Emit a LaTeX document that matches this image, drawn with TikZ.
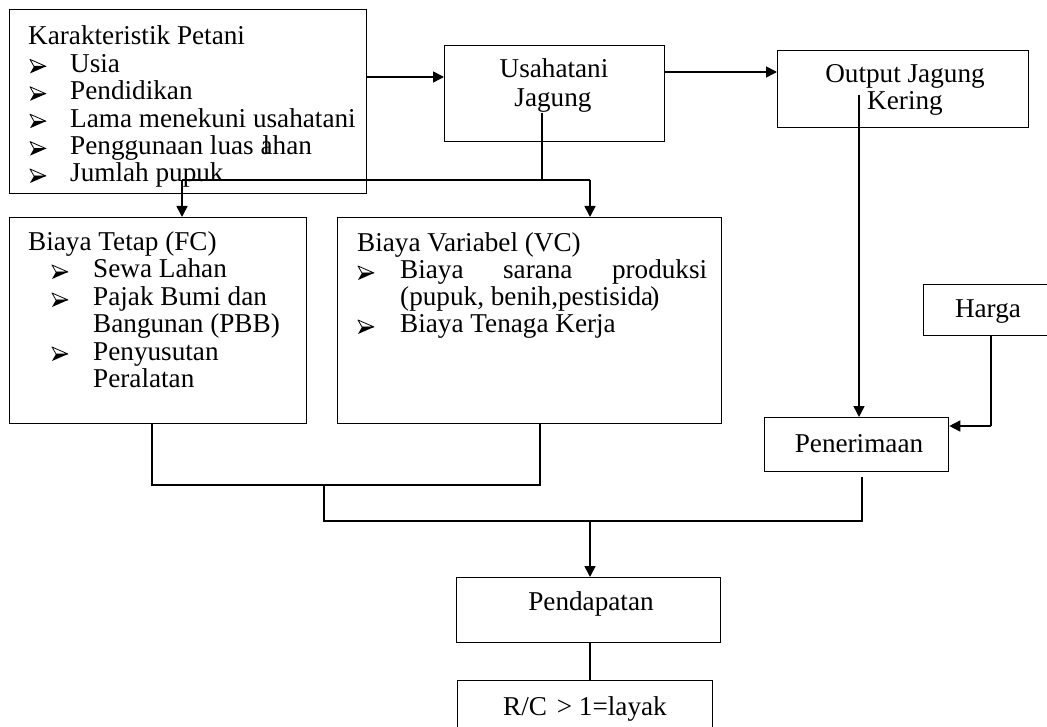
\documentclass[tikz,border=0pt]{standalone}
\usepackage{fontspec}
\setmainfont{Liberation Serif}
\usetikzlibrary{arrows.meta}
\begin{document}
\begin{tikzpicture}[x=1pt,y=-1pt,
  box/.style={draw, line width=1.3pt, inner sep=0pt, anchor=north west},
  ln/.style={line width=1.2pt},
  arr/.style={line width=1.6pt, -{Triangle[length=11pt,width=11pt]}},
  txt/.style={anchor=base west, inner sep=0pt, font=\fontsize{27.2}{27.4}\selectfont},
  ctxt/.style={anchor=base, inner sep=0pt, font=\fontsize{27.2}{27.4}\selectfont},
  bul/.pic={\fill (0,7)--(16,0)--(4,0)--cycle;
            \draw[line width=0.8pt, line join=round] (0,-7)--(16,0)--(4,0)--cycle;}
]
\useasboundingbox[fill=white] (0,0) rectangle (1047,727);

% boxes
\node[box, minimum width=357pt, minimum height=184pt] (kar) at (9,9) {};
\node[box, minimum width=220pt, minimum height=96pt] (usa) at (444,45) {};
\node[box, minimum width=251pt, minimum height=77pt] (out) at (777,50) {};
\node[box, minimum width=297pt, minimum height=206pt] (fc) at (9,217) {};
\node[box, minimum width=384pt, minimum height=206pt] (vc) at (337,217) {};
\node[box, minimum width=130pt, minimum height=51pt] (harga) at (923,284) {};
\node[box, minimum width=184pt, minimum height=54pt] (pen) at (764,417) {};
\node[box, minimum width=264pt, minimum height=65pt] (pdp) at (456,577) {};
\node[box, minimum width=255pt, minimum height=60pt] (rc) at (457,680) {};

% Karakteristik Petani
\node[txt] (k0) at (28,45) {Karakteristik Petani};
\pic at (30,66.4) {bul}; \node[txt] (k1) at (70,72.4) {Usia};
\pic at (30,93.8) {bul}; \node[txt] (k2) at (70,99.8) {Pendidikan};
\pic at (30,121.2) {bul}; \node[txt] (k3) at (70,127.2) {Lama menekuni usahatani};
\pic at (30,148.6) {bul}; \node[txt] (k4) at (70,154.6) {Penggunaan luas \rlap{\kern2pt l}ahan};
\pic at (30,176) {bul}; \node[txt] (k5) at (70,182) {Jumlah pupuk};

% Usahatani
\node[ctxt] (u1) at (554,78) {Usahatani};
\node[ctxt] (u2) at (553,107) {Jagung};

% Output
\node[ctxt] (o1) at (905,83) {Output Jagung};
\node[ctxt] (o2) at (905,110) {Kering};

% Biaya Tetap
\node[txt] (f0) at (28,251) {Biaya Tetap (FC)};
\pic at (52,272) {bul}; \node[txt] (f1) at (93,278) {Sewa Lahan};
\pic at (52,300) {bul}; \node[txt] (f2) at (93,306) {Pajak Bumi dan};
\node[txt] (f3) at (93,333) {Bangunan (PBB)};
\pic at (52,354) {bul}; \node[txt] (f4) at (93,360) {Penyusutan};
\node[txt] (f5) at (93,388) {Peralatan};

% Biaya Variabel
\node[txt] (v0) at (357,252) {Biaya Variabel (VC)};
\pic at (358,273) {bul}; \node[txt] (v1) at (400,279) {\makebox[307pt][s]{Biaya\hfill sarana\hfill produksi}};
\node[txt] (v2) at (400,306) {(pupuk, benih,pestisida\kern-3pt)};
\pic at (358,327) {bul}; \node[txt] (v3) at (400,333) {Biaya Tenaga Kerja};

% others
\node[ctxt] (h1) at (988,318) {Harga};
\node[ctxt] (p1) at (859,452) {Penerimaan};
\node[ctxt] (d1) at (591,610) {Pendapatan};
\node[ctxt] (r1) at (585,715) {R/C\hspace{3pt} > 1=layak};

% helper coordinates
\coordinate (yA) at (0,77);
\coordinate (yB) at (0,72);
\coordinate (uS) at (542,113);
\coordinate (jL) at (182,180);
\coordinate (jU) at (542,180);
\coordinate (jR) at (590,180);
\coordinate (oS) at (859,95);
\coordinate (hB) at (991,426);
\coordinate (b1) at (152,485);
\coordinate (b2) at (540,485);
\coordinate (b3) at (324,485);
\coordinate (c1) at (324,521);
\coordinate (c2) at (862,521);
\coordinate (c3) at (862,477);
\coordinate (c4) at (590,521);

% connectors
\draw[arr] (kar.east |- yA) -- (usa.west |- yA);
\draw[arr] (usa.east |- yB) -- (out.west |- yB);
\draw[ln] (uS) -- (jU);
\draw[ln] (jL) -- (jR);
\draw[arr] (jR) -- (vc.north -| jR);
\draw[arr] (jL) -- (fc.north -| jL);
\draw[arr] (oS) -- (pen.north -| oS);
\draw[ln] (harga.south -| hB) -- (hB);
\draw[arr] (hB) -- (pen.east |- hB);
\draw[ln] (fc.south -| b1) -- (b1) -- (b2) -- (vc.south -| b2);
\draw[ln] (b3) -- (c1) -- (c2) -- (c3);
\draw[arr] (c4) -- (pdp.north -| c4);
\draw[ln] (pdp.south -| c4) -- (rc.north -| c4);
\end{tikzpicture}
\end{document}
